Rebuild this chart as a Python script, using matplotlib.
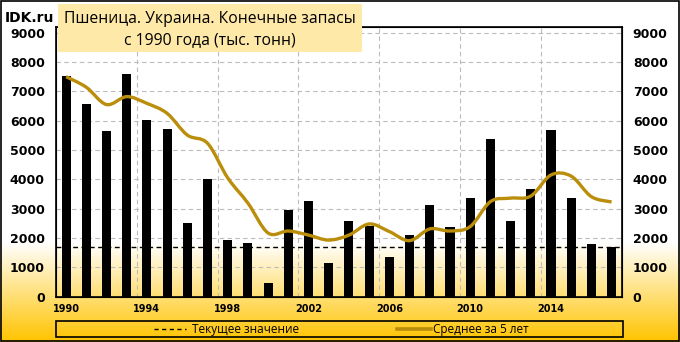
import numpy as np
import matplotlib
matplotlib.use('Agg')
import matplotlib.pyplot as plt
from matplotlib.path import Path
from matplotlib.patches import PathPatch, Rectangle
from matplotlib.lines import Line2D
from matplotlib.colors import LinearSegmentedColormap

# Data (thousand tonnes)
years = list(range(1990, 2018))
stocks = [7520, 6570, 5650, 7590, 6020, 5720, 2510, 4010, 1930, 1830,
          470, 2960, 3270, 1150, 2580, 2400, 1360, 2100, 3130, 2380,
          3370, 5380, 2580, 3670, 5680, 3370, 1800, 1700]
avg5 = [7500, 7140, 6550, 6820, 6590, 6250, 5510, 5230, 4050, 3190,
        2170, 2240, 2100, 1930, 2100, 2480, 2220, 1910, 2310, 2240,
        2390, 3240, 3360, 3430, 4150, 4110, 3410, 3230]
current = 1700
tick_years = [1990, 1994, 1998, 2002, 2006, 2010, 2014]

gold = '#BA8E0A'

fig = plt.figure(figsize=(6.8, 3.42), dpi=100)

# background gradient white -> yellow
bg = fig.add_axes([0, 0, 1, 1], zorder=-10)
bg.axis('off')
cmap = LinearSegmentedColormap.from_list('g', [(0, '#FFC400'), (0.29, '#FFFFFF'), (1, '#FFFFFF')])
grad = np.linspace(0, 1, 342).reshape(-1, 1)
bg.imshow(grad, aspect='auto', cmap=cmap, origin='lower', extent=[0, 1, 0, 1])
bg.set_xlim(0, 1)
bg.set_ylim(0, 1)
bg.add_patch(Rectangle((0.001, 0.002), 0.997, 0.995, fill=False, ec='black', lw=1.2))

ax = fig.add_axes([56 / 680, 45.3 / 342, 565.7 / 680, 269.4 / 342])
ax.patch.set_alpha(0)
x = np.arange(len(years))
ax.bar(x, stocks, width=0.45, color='black', zorder=3)
ax.axhline(current, color='black', ls=(0, (3.5, 2.5)), lw=1, zorder=4)

# smooth 5-year average curve (Catmull-Rom as cubic beziers)
pts = np.column_stack([x, avg5]).astype(float)
verts = [pts[0]]
codes = [Path.MOVETO]
for i in range(len(pts) - 1):
    p0 = pts[max(i - 1, 0)]
    p1 = pts[i]
    p2 = pts[i + 1]
    p3 = pts[min(i + 2, len(pts) - 1)]
    verts += [p1 + (p2 - p0) / 6, p2 - (p3 - p1) / 6, p2]
    codes += [Path.CURVE4] * 3
ax.add_patch(PathPatch(Path(verts, codes), fill=False, ec=gold, lw=2.4, zorder=5))

ax.set_xlim(-0.5, len(years) - 0.5)
ax.set_ylim(0, 9184)
ax.set_yticks(range(0, 9001, 1000))
ax.set_xticks([years.index(y) for y in tick_years])
ax.set_xticklabels([str(y) for y in tick_years], fontsize=7, fontweight='bold')
ax.tick_params(length=0)
ax.tick_params(axis='x', pad=5)
ax.tick_params(axis='y', pad=8)
for lab in ax.get_yticklabels():
    lab.set_fontsize(9)
    lab.set_fontweight('bold')
ax.grid(axis='y', color='#BBBBBB', ls=(0, (4, 3)), lw=0.8, zorder=0)
for gx in np.arange(3.5, len(years), 4):
    ax.axvline(gx, color='#BBBBBB', ls=(0, (4, 3)), lw=0.8, zorder=0)
for s in ax.spines.values():
    s.set_color('black')
    s.set_linewidth(1.2)

ax2 = ax.twinx()
ax2.set_ylim(ax.get_ylim())
ax2.set_yticks(range(0, 9001, 1000))
ax2.tick_params(length=0, pad=8)
for lab in ax2.get_yticklabels():
    lab.set_fontsize(9)
    lab.set_fontweight('bold')

# title box
fig.patches.append(Rectangle((58 / 680, 1 - 52 / 342), 304 / 680, 48 / 342,
                             transform=fig.transFigure, fc='#FFE9A8', ec='none', zorder=1))
fig.text(210 / 680, 1 - 19 / 342, 'Пшеница. Украина. Конечные запасы', ha='center', va='center',
         fontsize=11.3, family='Open Sans', zorder=2)
fig.text(210 / 680, 1 - 40 / 342, 'с 1990 года (тыс. тонн)', ha='center', va='center',
         fontsize=11.3, family='Open Sans', zorder=2)
fig.text(5 / 680, 1 - 18 / 342, 'IDK.ru', ha='left', va='center', fontsize=10, fontweight='bold')

# legend
fig.patches.append(Rectangle((56 / 680, 5 / 342), 567 / 680, 16 / 342, transform=fig.transFigure,
                             fill=False, ec='black', lw=1.2))
ly = 13 / 342
fig.lines.append(Line2D([154 / 680, 186 / 680], [ly, ly], transform=fig.transFigure,
                        color='black', ls=(0, (3, 2.5)), lw=1))
fig.text(192 / 680, ly, 'Текущее значение', va='center', fontsize=8.5, family='Open Sans')
fig.lines.append(Line2D([397 / 680, 431 / 680], [ly, ly], transform=fig.transFigure,
                        color=gold, lw=2.6))
fig.text(433 / 680, ly, 'Среднее за 5 лет', va='center', fontsize=8.5, family='Open Sans')

fig.savefig('out.png', dpi=100)
